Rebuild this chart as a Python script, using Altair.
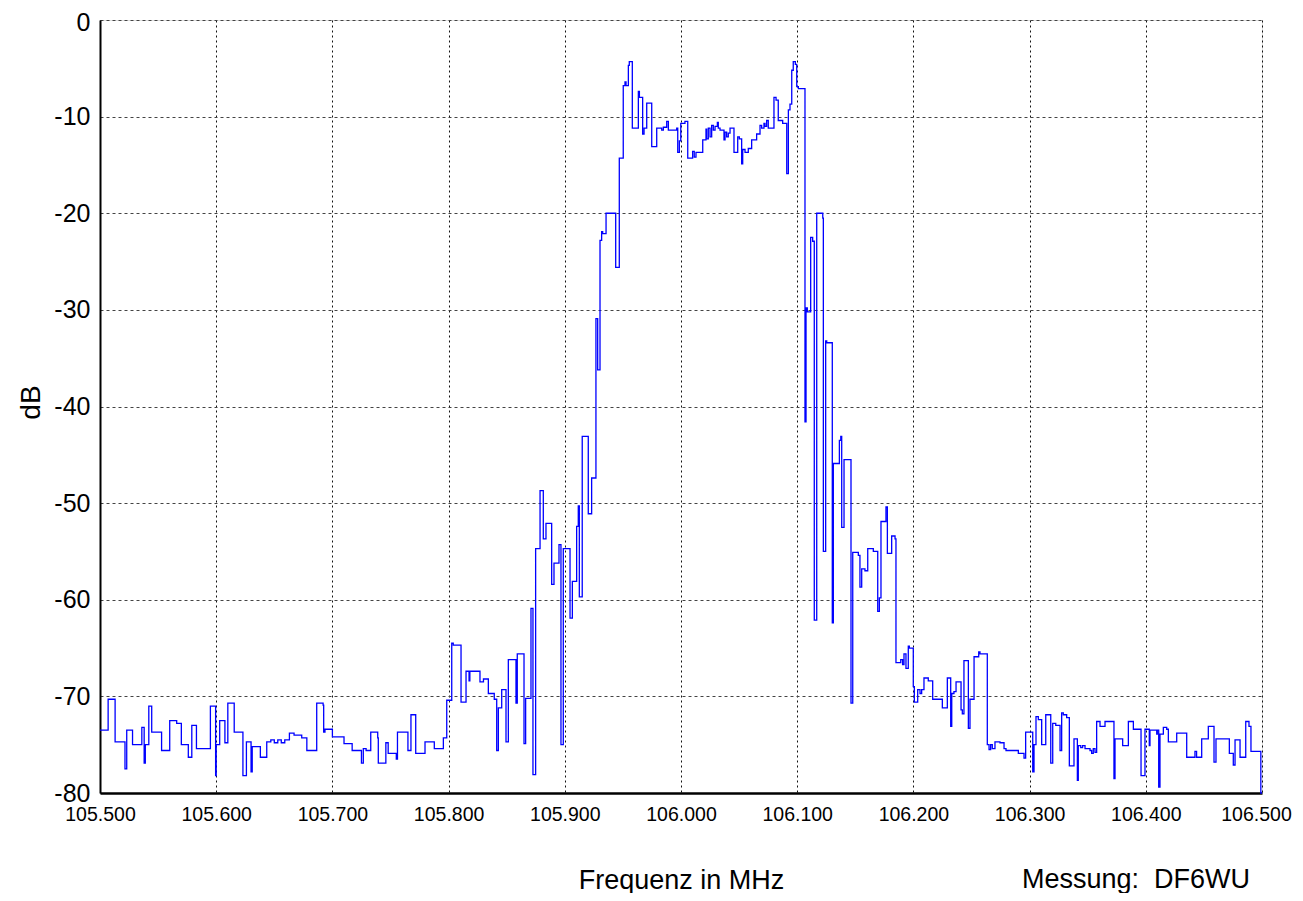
import altair as alt
import pandas as pd

# Frequency (MHz) at which each level starts (step trace)
freq = [
    105.500, 105.507, 105.513, 105.5215, 105.523, 105.528, 105.536, 105.538, 105.539, 105.542,
    105.5445, 105.553, 105.560, 105.566, 105.570, 105.576, 105.579, 105.583, 105.595, 105.5995,
    105.600, 105.603, 105.6075, 105.610, 105.6155, 105.623, 105.626, 105.630, 105.631, 105.638,
    105.6435, 105.647, 105.650, 105.653, 105.656, 105.659, 105.663, 105.667, 105.6736, 105.678,
    105.6865, 105.692, 105.6925, 105.6936, 105.700, 105.710, 105.717, 105.725, 105.7266, 105.729,
    105.733, 105.739, 105.7395, 105.746, 105.748, 105.755, 105.756, 105.765, 105.7676, 105.7717,
    105.7797, 105.7877, 105.7955, 105.7984, 105.8027, 105.804, 105.8107, 105.815, 105.8176, 105.8183,
    105.827, 105.830, 105.8342, 105.8393, 105.8414, 105.8428, 105.8457, 105.8494, 105.8514, 105.858,
    105.8591, 105.8649, 105.8663, 105.8709, 105.8726, 105.8749, 105.8787, 105.8815, 105.8838, 105.8887,
    105.8907, 105.895, 105.8967, 105.8987, 105.9045, 105.9065, 105.9102, 105.9116, 105.9125, 105.915,
    105.9202, 105.9231, 105.9268, 105.9283, 105.9303, 105.9317, 105.9326, 105.9355, 105.9438, 105.9469,
    105.9503, 105.9518, 105.9527, 105.9547, 105.9555, 105.9581, 105.9633, 105.9642, 105.967, 105.9682,
    105.9705, 105.9748, 105.9791, 105.9834, 105.9848, 105.9877, 105.9891, 105.9963, 105.9972, 105.9986,
    105.9998, 106.0034, 106.0058, 106.0100, 106.0114, 106.0129, 106.0187, 106.0215, 106.0221, 106.0235,
    106.0250, 106.0264, 106.0278, 106.0293, 106.0313, 106.0321, 106.0336, 106.0370, 106.0379, 106.0393,
    106.0407, 106.0422, 106.0456, 106.0488, 106.0502, 106.0522, 106.0531, 106.0551, 106.0579, 106.0608,
    106.0651, 106.0680, 106.0694, 106.0714, 106.0723, 106.0737, 106.0751, 106.0800, 106.0818, 106.0837,
    106.0875, 106.0910, 106.0924, 106.0938, 106.0953, 106.0966, 106.0984, 106.0996, 106.1010, 106.1067,
    106.1076, 106.1087, 106.1116, 106.1133, 106.1147, 106.1168, 106.1220, 106.1225, 106.1245, 106.1254,
    106.1302, 106.1311, 106.1363, 106.1375, 106.1383, 106.1403, 106.1463, 106.1478, 106.1526, 106.1540,
    106.1555, 106.1583, 106.1607, 106.1655, 106.1693, 106.1707, 106.1721, 106.1764, 106.1776, 106.1813,
    106.1842, 106.1850, 106.1891, 106.1907, 106.1919, 106.1936, 106.1956, 106.1965, 106.1999, 106.2008,
    106.2037, 106.2057, 106.2071, 106.2091, 106.2128, 106.2166, 106.2249, 106.2292, 106.2321, 106.2330,
    106.2349, 106.2367, 106.2410, 106.2421, 106.2435, 106.2473, 106.2487, 106.2522, 106.2562, 106.2573,
    106.2636, 106.2651, 106.2665, 106.2679, 106.2702, 106.2745, 106.2780, 106.2797, 106.2903, 106.2952,
    106.2966, 106.3027, 106.3038, 106.3055, 106.3075, 106.3104, 106.3139, 106.3182, 106.3199, 106.3225,
    106.3262, 106.3276, 106.3290, 106.3319, 106.3342, 106.3382, 106.3411, 106.3419, 106.3440, 106.3456,
    106.3477, 106.3520, 106.3534, 106.3548, 106.3563, 106.3577, 106.3606, 106.3649, 106.3726, 106.3735,
    106.3801, 106.3850, 106.3893, 106.3959, 106.3993, 106.4030, 106.4036, 106.4094, 106.4099, 106.4111,
    106.4122, 106.4151, 106.4180, 106.4194, 106.4266, 106.4352, 106.4423, 106.4437, 106.4481, 106.4538,
    106.4587, 106.4604, 106.4719, 106.4753, 106.4768, 106.4811, 106.4860, 106.4888, 106.4905, 106.4990,
    106.5000,
]

# Level in dB for each step
level_db = [
    -73.5, -70.3, -74.7, -77.5, -73.5, -75.0, -73.2, -76.9, -75.0, -71.0,
    -73.7, -75.6, -72.5, -72.8, -75.0, -76.3, -73.0, -75.4, -71.0, -78.2,
    -75.0, -72.5, -74.8, -70.7, -73.7, -78.2, -74.7, -77.8, -75.2, -76.3,
    -74.7, -74.5, -74.8, -74.5, -74.8, -74.5, -73.8, -74.0, -74.3, -75.6,
    -70.7, -70.9, -73.7, -73.4, -74.2, -74.9, -75.6, -76.9, -75.4, -75.6,
    -73.7, -74.3, -76.9, -74.8, -75.9, -76.5, -73.7, -75.6, -71.9, -75.9,
    -74.7, -75.4, -74.3, -70.4, -64.5, -64.7, -70.6, -67.4, -68.4, -67.4,
    -68.5, -68.2, -69.7, -70.3, -75.6, -71.2, -69.3, -74.7, -66.2, -70.7,
    -65.6, -74.9, -70.2, -60.9, -78.1, -54.7, -48.7, -53.7, -52.1, -58.4,
    -56.2, -54.3, -75.0, -54.7, -61.9, -58.1, -52.4, -50.3, -59.7, -43.1,
    -51.1, -47.4, -30.9, -36.2, -22.8, -21.9, -22.1, -20.0, -25.6, -14.3,
    -6.8, -6.4, -6.8, -4.7, -4.3, -11.2, -7.4, -8.0, -11.8, -11.2,
    -8.6, -13.1, -11.2, -11.4, -11.1, -10.5, -11.4, -11.2, -13.7, -12.5,
    -10.7, -10.5, -14.3, -13.6, -14.2, -13.7, -12.4, -11.3, -12.3, -11.2,
    -12.1, -10.9, -11.4, -11.0, -10.6, -11.2, -11.4, -12.4, -11.6, -12.1,
    -11.7, -11.2, -13.7, -12.1, -12.3, -14.9, -13.4, -13.7, -13.3, -12.4,
    -11.8, -10.9, -11.2, -10.7, -11.0, -10.4, -11.2, -8.0, -8.3, -10.4,
    -10.7, -15.9, -9.3, -8.7, -5.2, -4.3, -4.6, -6.9, -7.1, -41.6,
    -29.8, -30.2, -22.5, -22.9, -62.1, -20.0, -20.5, -55.0, -33.2, -33.4,
    -62.4, -45.9, -43.5, -43.1, -52.5, -45.5, -70.7, -55.1, -55.4, -58.7,
    -56.8, -57.0, -54.7, -55.0, -61.2, -59.8, -51.9, -50.4, -55.2, -53.4,
    -53.7, -66.5, -66.2, -66.7, -65.6, -67.1, -64.8, -65.0, -69.0, -70.6,
    -69.3, -69.7, -69.3, -68.1, -68.4, -70.3, -71.2, -68.1, -73.1, -69.7,
    -69.5, -68.5, -71.4, -71.8, -66.3, -73.3, -70.3, -65.9, -65.4, -65.6,
    -75.0, -75.5, -75.0, -75.4, -74.7, -74.8, -75.4, -75.6, -75.9, -76.4,
    -73.7, -77.8, -75.0, -72.1, -72.4, -75.0, -71.9, -76.9, -72.8, -73.0,
    -75.6, -71.7, -71.9, -72.2, -77.2, -74.4, -78.7, -75.1, -75.3, -75.1,
    -75.4, -75.6, -75.9, -75.4, -75.8, -72.6, -73.1, -72.6, -78.5, -74.4,
    -75.1, -72.6, -73.4, -78.2, -73.4, -75.1, -73.5, -73.9, -73.5, -79.4,
    -73.9, -73.2, -73.4, -74.7, -73.8, -76.3, -75.7, -76.3, -74.4, -73.1,
    -76.8, -74.4, -75.9, -77.1, -74.5, -76.3, -72.6, -73.1, -75.7, -80.0,
    -80.0,
]

x_ticks = [105.5, 105.6, 105.7, 105.8, 105.9, 106.0, 106.1, 106.2, 106.3, 106.4, 106.5]
y_ticks = [0, -10, -20, -30, -40, -50, -60, -70, -80]
x_title = "Frequenz in MHz"
y_title = "dB"
credit = "Messung:\u00a0\u00a0DF6WU"

df = pd.DataFrame({"f": freq, "db": level_db})

FONT = "Liberation Sans"

line = alt.Chart(df).mark_line(
    interpolate="step-after", color="#0000ff", strokeWidth=1.3
).encode(
    x=alt.X(
        "f:Q",
        scale=alt.Scale(domain=[105.5, 106.5], nice=False, zero=False),
        axis=alt.Axis(
            values=x_ticks, format=".3f", title=x_title,
            labelFontSize=19.5, labelFont=FONT, labelColor="black", labelPadding=12,
            labelFlush=False, ticks=False,
            labelOffset={"condition": {"test": "datum.value > 106.45", "value": -6}, "value": 0},
            domainColor="black", domainWidth=2.5,
            grid=True, gridColor="#111", gridDash=[2, 3], gridWidth=1,
            titleFont=FONT, titleFontSize=27, titleFontWeight="normal", titleColor="black",
            titleX=581, titleY=95, titleBaseline="alphabetic", titleAlign="center",
        ),
    ),
    y=alt.Y(
        "db:Q",
        scale=alt.Scale(domain=[-80, 0], nice=False, zero=False),
        axis=alt.Axis(
            values=y_ticks, title=y_title,
            labelExpr="datum.value == 0 ? '0' : '-' + format(abs(datum.value), 'd')",
            labelFontSize=25, labelFont=FONT, labelColor="black", labelPadding=10,
            labelFlush=False, ticks=False,
            labelOffset={"condition": {"test": "datum.value > -1", "value": 2}, "value": 0},
            domainColor="black", domainWidth=2,
            grid=True, gridColor="#444", gridDash=[3, 3], gridWidth=1,
            titleFont=FONT, titleFontSize=28, titleFontWeight="normal", titleColor="black",
            titleX=-69, titleY=382, titleAngle=270, titleBaseline="middle", titleAlign="center",
        ),
    ),
)

note = alt.Chart(pd.DataFrame({"t": [credit]})).mark_text(
    font=FONT, fontSize=27, color="black", align="right", baseline="alphabetic"
).encode(
    x=alt.value(1150), y=alt.value(868), text="t:N"
)

chart = alt.layer(line, note).properties(
    width=1162, height=773,
    autosize=alt.AutoSizeParams(type="none"),
    padding={"left": 92, "top": 12, "right": 33, "bottom": 100},
).configure_view(
    stroke="black", strokeWidth=1.5
).configure(background="white")

chart.save("out.html", embed_options={"renderer": "svg", "actions": False})
